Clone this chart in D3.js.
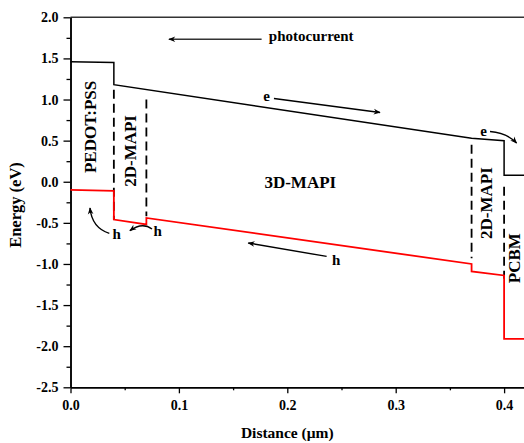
<!DOCTYPE html>
<html>
<head>
<meta charset="utf-8">
<script src="https://cdn.jsdelivr.net/npm/d3@7"></script>
<style>
  html, body { margin: 0; padding: 0; background: #fff; }
  text { font-family: "Liberation Serif", "Times New Roman", serif; font-weight: bold; }
</style>
</head>
<body>
<div id="viz"></div>
<script>
// band edges, distance in um, energy in eV
var cbX = [0, 0.04, 0.04, 0.37, 0.40, 0.40, 0.43];
var cbE = [1.46, 1.45, 1.18, 0.53, 0.50, 0.08, 0.08];
var vbX = [0, 0.04, 0.04, 0.07, 0.07, 0.37, 0.37, 0.40, 0.40, 0.43];
var vbE = [-0.10, -0.11, -0.46, -0.52, -0.44, -1.00, -1.09, -1.14, -1.91, -1.91];

// interfaces (dashed): x, top energy, bottom energy
var ifX = [0.04, 0.07, 0.37, 0.40];
var ifTop = [1.12, 1.00, 0.45, -0.06];
var ifBot = [-0.46, -0.42, -0.93, -1.18];

var xTicks = [0.0, 0.1, 0.2, 0.3, 0.4];
var yTicks = [2.0, 1.5, 1.0, 0.5, 0.0, -0.5, -1.0, -1.5, -2.0, -2.5];

// text labels in data coords
var labels = [
  {t: "PEDOT:PSS", x: 0.018, e: 0.667, r: -90},
  {t: "2D-MAPI", x: 0.0549, e: 0.375, r: -90},
  {t: "3D-MAPI", x: 0.212, e: 0.0, r: 0},
  {t: "2D-MAPI", x: 0.383, e: -0.26, r: -90},
  {t: "PCBM", x: 0.4095, e: -0.93, r: -90}
];
var carriers = [
  {t: "e", x: 0.181, e: 1.04},
  {t: "h", x: 0.245, e: -0.96},
  {t: "e", x: 0.381, e: 0.61},
  {t: "h", x: 0.0426, e: -0.645},
  {t: "h", x: 0.0804, e: -0.605}
];
// arrows: start, (control), end in data coords
var arrows = [
  [[0.1763, 1.733], [0.0908, 1.733]],
  [[0.1877, 1.013], [0.2855, 0.843]],
  [[0.2363, -0.908], [0.164, -0.745]],
  [[0.3870, 0.611], [0.4024, 0.597], [0.4115, 0.470]],
  [[0.0358, -0.627], [0.0198, -0.561], [0.0180, -0.319]],
  [[0.0752, -0.575], [0.0662, -0.485], [0.0548, -0.595]]
];

var W = 524, H = 443;
var x = d3.scaleLinear().domain([0, 0.43]).range([70.5, 70.5 + 0.43 * 1084]);
var y = d3.scaleLinear().domain([2, -2.5]).range([17.3, 387.3]);

var svg = d3.select("#viz").append("svg")
  .attr("width", W).attr("height", H);

var defs = svg.append("defs");
defs.append("marker")
  .attr("id", "head")
  .attr("markerUnits", "userSpaceOnUse")
  .attr("viewBox", "0 0 10 10")
  .attr("refX", 9).attr("refY", 5)
  .attr("markerWidth", 10).attr("markerHeight", 7)
  .attr("orient", "auto")
  .append("path")
  .attr("d", "M0,1 L10,5 L0,9 L3,5 Z")
  .attr("fill", "#000");

// top frame
svg.append("line")
  .attr("x1", x(0)).attr("x2", W)
  .attr("y1", y(2)).attr("y2", y(2))
  .attr("stroke", "#333").attr("stroke-width", 1.5);

// axes
function minor(a) {
  var out = [];
  for (var i = 0; i < a.length - 1; i++) out.push((a[i] + a[i + 1]) / 2);
  return out;
}
var xMinor = minor(xTicks);
var yMinor = minor(yTicks);

var gx = svg.append("g").attr("transform", "translate(0," + y(-2.5) + ")");
gx.call(d3.axisBottom(x).tickValues(xMinor).tickSize(3).tickFormat("").tickSizeOuter(0));
gx.append("g").call(d3.axisBottom(x).tickValues(xTicks).tickSize(6).tickPadding(7)
  .tickFormat(function(d) { return d.toFixed(1); }).tickSizeOuter(0));

var gy = svg.append("g").attr("transform", "translate(" + x(0) + ",0)");
gy.call(d3.axisLeft(y).tickValues(yMinor).tickSize(4).tickFormat("").tickSizeOuter(0));
gy.append("g").call(d3.axisLeft(y).tickValues(yTicks).tickSize(7).tickPadding(5)
  .tickFormat(function(d) { return d.toFixed(1); }).tickSizeOuter(0));

svg.selectAll(".domain").attr("stroke", "#000").attr("stroke-width", 1.5);
svg.selectAll(".tick line").attr("stroke", "#000").attr("stroke-width", 1.3);
svg.selectAll(".tick text").attr("font-size", 14).attr("fill", "#000")
  .style("font-family", "'Liberation Serif', serif").style("font-weight", "bold");

// axis titles
svg.append("text")
  .attr("x", x(0.2)).attr("y", 438)
  .attr("text-anchor", "middle").attr("font-size", 15.5)
  .text("Distance (\u03bcm)");
svg.append("text")
  .attr("transform", "translate(21,205) rotate(-90)")
  .attr("text-anchor", "middle").attr("font-size", 16.5)
  .text("Energy (eV)");

// dashed interfaces
svg.selectAll("line.iface")
  .data(ifX)
  .enter()
  .append("line")
  .attr("class", "iface")
  .attr("x1", function(d) { return x(d); })
  .attr("x2", function(d) { return x(d); })
  .attr("y1", function(d, i) { return y(ifTop[i]); })
  .attr("y2", function(d, i) { return y(ifBot[i]); })
  .attr("stroke", "#000").attr("stroke-width", 1.8)
  .attr("stroke-dasharray", "9,5");

// band lines
var line = d3.line().x(function(d) { return x(d[0]); }).y(function(d) { return y(d[1]); });
svg.append("path")
  .attr("d", line(d3.zip(cbX, cbE)))
  .attr("fill", "none").attr("stroke", "#000").attr("stroke-width", 1.5);
svg.append("path")
  .attr("d", line(d3.zip(vbX, vbE)))
  .attr("fill", "none").attr("stroke", "#ff0000").attr("stroke-width", 1.8);

// region labels
svg.selectAll("text.lab")
  .data(labels)
  .enter()
  .append("text")
  .attr("class", "lab")
  .attr("transform", function(d) {
    return "translate(" + x(d.x) + "," + y(d.e) + ") rotate(" + d.r + ")";
  })
  .attr("text-anchor", "middle")
  .attr("dy", "0.35em")
  .attr("font-size", 17)
  .text(function(d) { return d.t; });

svg.append("text")
  .attr("x", x(0.183)).attr("y", y(1.77))
  .attr("dy", "0.35em")
  .attr("font-size", 15)
  .text("photocurrent");

svg.selectAll("text.car")
  .data(carriers)
  .enter()
  .append("text")
  .attr("class", "car")
  .attr("x", function(d) { return x(d.x); })
  .attr("y", function(d) { return y(d.e); })
  .attr("dy", "0.3em")
  .attr("text-anchor", "middle")
  .attr("font-size", 15)
  .text(function(d) { return d.t; });

// arrows
svg.selectAll("path.arrow")
  .data(arrows)
  .enter()
  .append("path")
  .attr("class", "arrow")
  .attr("d", function(p) {
    var s = "M" + x(p[0][0]) + "," + y(p[0][1]);
    if (p.length === 3) {
      s += "Q" + x(p[1][0]) + "," + y(p[1][1]) + " " + x(p[2][0]) + "," + y(p[2][1]);
    } else {
      s += "L" + x(p[1][0]) + "," + y(p[1][1]);
    }
    return s;
  })
  .attr("fill", "none")
  .attr("stroke", function(p, i) { return i === 0 ? "#333" : "#000"; })
  .attr("stroke-width", 1.4)
  .attr("marker-end", "url(#head)");
</script>
</body>
</html>
